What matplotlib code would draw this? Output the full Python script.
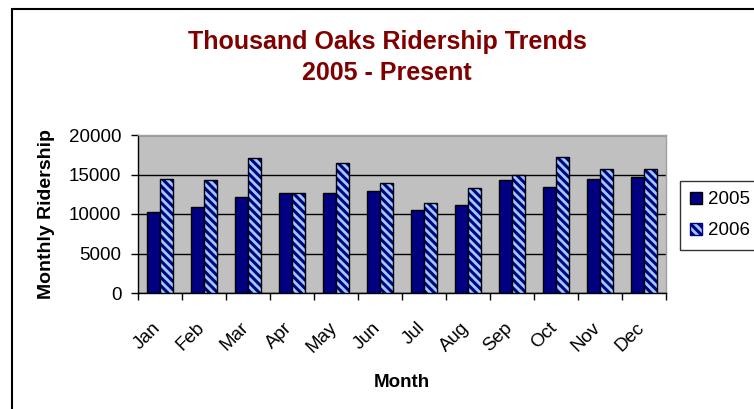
import matplotlib
matplotlib.use("Agg")
import matplotlib.pyplot as plt
import matplotlib.transforms as mtransforms
import numpy as np
from matplotlib.patches import Rectangle

months = ["Jan", "Feb", "Mar", "Apr", "May", "Jun", "Jul", "Aug", "Sep", "Oct", "Nov", "Dec"]
ridership_2005 = [10300, 10900, 12100, 12650, 12650, 12900, 10500, 11100, 14300, 13450, 14450, 14650]
ridership_2006 = [14450, 14250, 17050, 12600, 16400, 13900, 11450, 13300, 15000, 17200, 15700, 15700]
series_labels = ["2005", "2006"]
y_ticks = [0, 5000, 10000, 15000, 20000]

plt.rcParams['font.family'] = ['Liberation Sans', 'DejaVu Sans']
plt.rcParams['hatch.linewidth'] = 2.2

fig = plt.figure(figsize=(7.54, 4.09), dpi=100)
W, H = 754, 409
ax = fig.add_axes([138 / W, 1 - 293 / H, (666 - 138) / W, (293 - 135) / H])

# figure border
fig.patches.append(Rectangle((12 / W, -0.1), 1.2, 1 - 9 / H + 0.1, transform=fig.transFigure,
                             fill=False, edgecolor='black', linewidth=1.5))

x = np.arange(len(months))
bw = 0.2857
ax.set_facecolor('#C0C0C0')
b1 = ax.bar(x - bw / 2, ridership_2005, bw, color='#000080', edgecolor='black', linewidth=1.0,
            label=series_labels[0], zorder=3)
# hatched fill (navy stripes), then black outline on top
b2 = ax.bar(x + bw / 2, ridership_2006, bw, color='#99CCFF', edgecolor='#000080', linewidth=0,
            hatch='\\\\\\\\', label=series_labels[1], zorder=3)
ax.bar(x + bw / 2, ridership_2006, bw, fill=False, edgecolor='black', linewidth=1.0, zorder=4)

ax.set_xlim(-0.5, len(months) - 0.5)
ax.set_ylim(0, 20000)
ax.set_yticks(y_ticks)
ax.set_yticklabels([str(v) for v in y_ticks], fontsize=13.5)
ax.yaxis.grid(True, color='black', linewidth=1.0, zorder=1)
ax.set_axisbelow(True)

ax.set_xticks(x)
ax.set_xticklabels(months, fontsize=13.5, rotation=45, ha='right', va='top', rotation_mode='anchor')
ax.set_xticks(np.arange(-0.5, len(months)), minor=True)
ax.tick_params(axis='x', which='major', length=0, pad=19)
ax.tick_params(axis='x', which='minor', length=5, width=1, direction='out')
ax.tick_params(axis='y', length=5, width=1, direction='out', pad=7)
offset = mtransforms.ScaledTranslation(-8 / 100, 0, fig.dpi_scale_trans)
for lbl in ax.get_xticklabels():
    lbl.set_transform(lbl.get_transform() + offset)

for s in ['left', 'bottom']:
    ax.spines[s].set_color('black')
    ax.spines[s].set_linewidth(1.0)
for s in ['top', 'right']:
    ax.spines[s].set_color('#A0A0A0')
    ax.spines[s].set_linewidth(1.0)

ax.set_xlabel("Month", fontsize=13.5, fontweight='bold', labelpad=13)
ax.set_ylabel("Monthly Ridership", fontsize=14, fontweight='bold', labelpad=10)

fig.text(387 / W, 1 - 42 / H, "Thousand Oaks Ridership Trends", ha='center', va='center',
         fontsize=18, fontweight='bold', color='#800000')
fig.text(387 / W, 1 - 73 / H, "2005 - Present", ha='center', va='center',
         fontsize=18, fontweight='bold', color='#800000')

h2 = Rectangle((0, 0), 1, 1, facecolor='#99CCFF', edgecolor='#000080', hatch='\\\\\\\\', linewidth=1.0)
leg = fig.legend(handles=[b1, h2], labels=series_labels, loc='upper left',
                 bbox_to_anchor=(680 / W, 1 - 181 / H), fontsize=13.5, frameon=True,
                 fancybox=False, edgecolor='black', handlelength=0.6, handleheight=0.6,
                 handletextpad=0.35, borderpad=0.55, labelspacing=0.75, borderaxespad=0)
leg.get_frame().set_linewidth(1.0)

fig.savefig("out.png", dpi=100)
